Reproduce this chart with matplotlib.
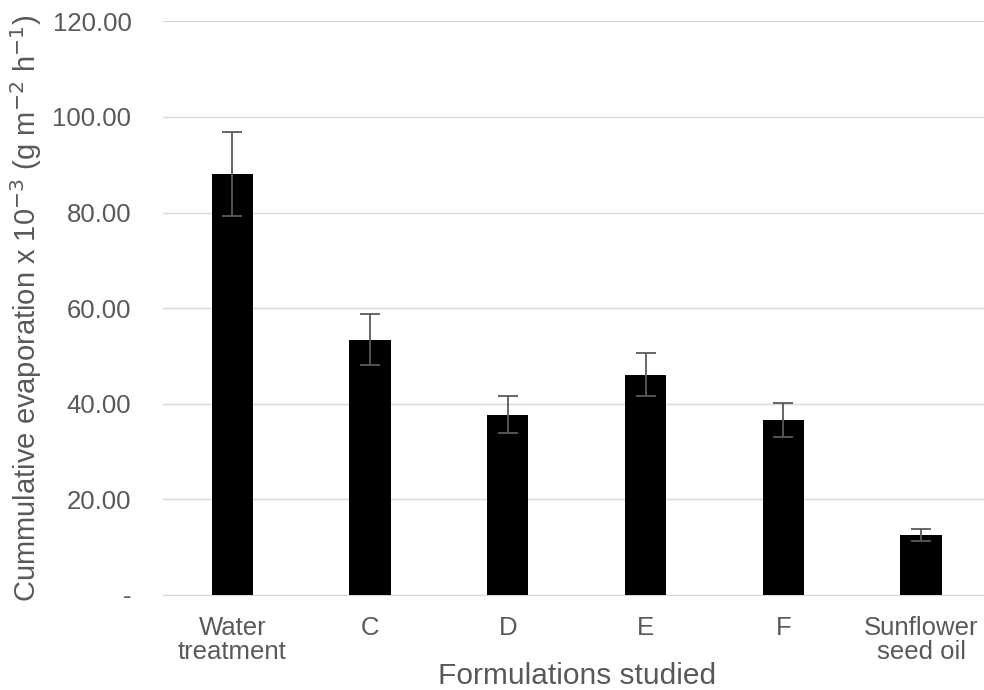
import matplotlib.pyplot as plt
from matplotlib.ticker import FuncFormatter

plt.rcParams['font.family'] = ['Liberation Sans', 'DejaVu Sans']

labels = ['Water\ntreatment', 'C', 'D', 'E', 'F', 'Sunflower\nseed oil']
values = [88.0, 53.4, 37.7, 46.1, 36.6, 12.6]
errors = [8.8, 5.3, 3.8, 4.6, 3.6, 1.25]
yticks = [0, 20, 40, 60, 80, 100, 120]

fig = plt.figure(figsize=(9.84, 6.9), dpi=100)
ax = fig.add_axes([0.166, 0.138, 0.84, 0.831])

x = range(len(labels))
ax.bar(x, values, width=0.3, color='black', zorder=3)
ax.errorbar(x, values, yerr=errors, fmt='none', ecolor='#5a5a5a',
            elinewidth=1.3, capsize=7, capthick=1.3, zorder=4)

ax.set_xlim(-0.5, len(labels) - 0.5)
ax.set_ylim(0, 120)
ax.set_yticks(yticks)
ax.yaxis.set_major_formatter(FuncFormatter(lambda v, p: '-' if v == 0 else '%.2f' % v))
ax.set_xticks(list(x))
ax.set_xticklabels(labels, linespacing=1.0)

ax.grid(axis='y', color='#d9d9d9', linewidth=1, zorder=0)
for s in ['top', 'right', 'left']:
    ax.spines[s].set_visible(False)
ax.spines['bottom'].set_color('#d9d9d9')
ax.tick_params(axis='both', length=0, colors='#595959', labelsize=18.5)
ax.tick_params(axis='y', pad=23)
ax.tick_params(axis='x', pad=15)

ax.set_xlabel('Formulations studied', fontsize=21.5, color='#595959', labelpad=-1)
ax.set_ylabel('Cummulative evaporation x 10$^{\u22123}$ (g m$^{\u22122}$ h$^{\u22121}$)',
              fontsize=21, color='#595959', labelpad=6)

fig.savefig('out.png', dpi=100)
